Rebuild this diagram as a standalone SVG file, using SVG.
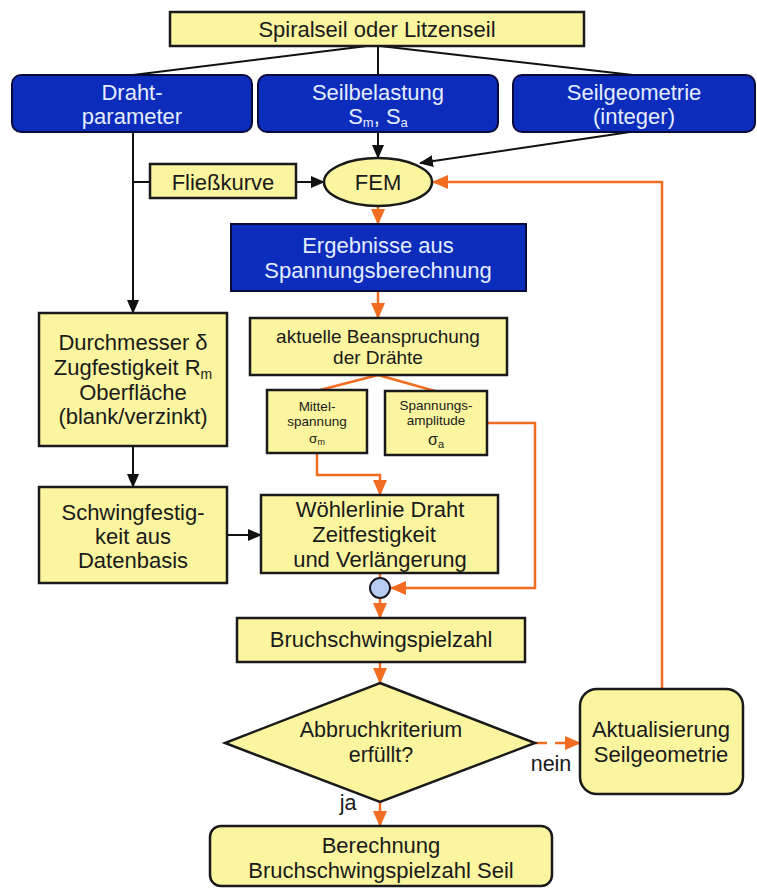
<svg xmlns="http://www.w3.org/2000/svg" width="757" height="890" viewBox="0 0 757 890">
<defs>
<style>
.y{fill:#fbf5a0;stroke:#1a1a1a;stroke-width:2.5}
.b{fill:#0c2dbb;stroke:#0a0a3a;stroke-width:2}
text{font-family:"Liberation Sans",Arial,sans-serif;text-anchor:middle;fill:#1a1a1a}
.t{font-size:22px}
.m{font-size:19px}
.d{font-size:21.5px}
.s{font-size:13.5px}
.w{fill:#e4ecff;font-size:22px}
.k{stroke:#111;stroke-width:2;fill:none}
.o{stroke:#f26d21;stroke-width:2.5;fill:none}
</style>
<marker id="ak" markerUnits="userSpaceOnUse" markerWidth="14" markerHeight="14" viewBox="0 0 14 14" refX="13" refY="7" orient="auto"><path d="M0,1 L14,7 L0,13 Z" fill="#111"/></marker>
<marker id="ao" markerUnits="userSpaceOnUse" markerWidth="16" markerHeight="16" viewBox="0 0 16 16" refX="15" refY="8" orient="auto"><path d="M0,1 L16,8 L0,15 Z" fill="#f26d21"/></marker>
</defs>

<g id="connectors">
<path class="k" d="M367,46 L133,75"/>
<path class="k" d="M378,46 L378,75"/>
<path class="k" d="M380,46 L633,75"/>
<path class="k" d="M378,132 L378,158" marker-end="url(#ak)"/>
<path class="k" d="M630,132 L420,163" marker-end="url(#ak)"/>
<path class="k" d="M133,132 L133,313" marker-end="url(#ak)"/>
<path class="k" d="M133,182 L150,182"/>
<path class="k" d="M296,182 L324,182" marker-end="url(#ak)"/>
<path class="k" d="M133,446 L133,487" marker-end="url(#ak)"/>
<path class="k" d="M227,535 L261,535" marker-end="url(#ak)"/>
<path class="o" d="M378,206 L378,224" marker-end="url(#ao)"/>
<path class="o" d="M378,291 L378,318" marker-end="url(#ao)"/>
<path class="o" d="M378,375 L320,390"/>
<path class="o" d="M378,375 L435,391"/>
<path class="o" d="M317,453 L317,475 L380,475 L380,495" marker-end="url(#ao)"/>
<path class="o" d="M487,423 L535,423 L535,588 L391,588" marker-end="url(#ao)"/>
<path class="o" d="M380,573 L380,578"/>
<path class="o" d="M380,598 L380,618" marker-end="url(#ao)"/>
<path class="o" d="M380,662 L380,683" marker-end="url(#ao)"/>
<path class="o" d="M380,802 L380,826" marker-end="url(#ao)"/>
<path class="o" d="M535,743 L580,743" stroke-dasharray="12,8" marker-end="url(#ao)"/>
<path class="o" d="M662,689 L662,182 L433,182" marker-end="url(#ao)"/>
</g>

<g id="spiralseil">
<rect class="y" x="170" y="12" width="414" height="34"/>
<text class="t" x="377" y="37">Spiralseil oder Litzenseil</text>
</g>

<g id="drahtparameter">
<rect class="b" x="12" y="75" width="240" height="57" rx="9"/>
<text class="w" x="132" y="100">Draht-</text>
<text class="w" x="132" y="124">parameter</text>
</g>

<g id="seilbelastung">
<rect class="b" x="258" y="75" width="240" height="57" rx="9"/>
<text class="w" x="378" y="100">Seilbelastung</text>
<text class="w" x="378" y="124">S<tspan font-size="13" dy="3">m</tspan><tspan dy="-3">, S</tspan><tspan font-size="13" dy="3">a</tspan></text>
</g>

<g id="seilgeometrie">
<rect class="b" x="513" y="75" width="242" height="57" rx="9"/>
<text class="w" x="634" y="100">Seilgeometrie</text>
<text class="w" x="634" y="124">(integer)</text>
</g>

<g id="fliesskurve">
<rect class="y" x="150" y="164" width="146" height="34"/>
<text class="t" x="223" y="190">Fließkurve</text>
</g>

<g id="fem">
<ellipse class="y" cx="378" cy="182" rx="54" ry="24"/>
<text class="t" x="378" y="190">FEM</text>
</g>

<g id="ergebnisse">
<rect class="b" x="231" y="224" width="295" height="67"/>
<text class="w" x="378" y="253">Ergebnisse aus</text>
<text class="w" x="378" y="278">Spannungsberechnung</text>
</g>

<g id="beanspruchung">
<rect class="y" x="250" y="318" width="257" height="57"/>
<text class="m" x="378" y="343">aktuelle Beanspruchung</text>
<text class="m" x="378" y="364">der Drähte</text>
</g>

<g id="mittelspannung">
<rect class="y" x="267" y="390" width="100" height="63"/>
<text class="s" x="317" y="411">Mittel-</text>
<text class="s" x="317" y="426">spannung</text>
<text class="s" x="317" y="443">σ<tspan font-size="9" dy="2">m</tspan></text>
</g>

<g id="spannungsamplitude">
<rect class="y" x="385" y="391" width="102" height="64"/>
<text class="s" x="436" y="410">Spannungs-</text>
<text class="s" x="436" y="425">amplitude</text>
<text x="436" y="445" style="font-size:16px">σ<tspan font-size="11" dy="3">a</tspan></text>
</g>

<g id="durchmesser">
<rect class="y" x="39" y="313" width="188" height="133"/>
<text class="t" x="133" y="350">Durchmesser δ</text>
<text class="t" x="133" y="375">Zugfestigkeit R<tspan font-size="14" dy="4">m</tspan></text>
<text class="t" x="133" y="400">Oberfläche</text>
<text class="t" x="133" y="424">(blank/verzinkt)</text>
</g>

<g id="schwingfestigkeit">
<rect class="y" x="39" y="487" width="188" height="96"/>
<text class="t" x="133" y="520">Schwingfestig-</text>
<text class="t" x="133" y="544">keit aus</text>
<text class="t" x="133" y="568">Datenbasis</text>
</g>

<g id="woehlerlinie">
<rect class="y" x="261" y="495" width="237" height="78"/>
<text class="t" x="380" y="517">Wöhlerlinie Draht</text>
<text class="t" x="374" y="542">Zeitfestigkeit</text>
<text class="t" x="380" y="567">und Verlängerung</text>
</g>

<g id="knoten">
<circle cx="380" cy="588" r="10" fill="#b8cbf2" stroke="#1a1a2a" stroke-width="2"/>
</g>

<g id="bruchschwingspielzahl">
<rect class="y" x="237" y="618" width="288" height="44"/>
<text class="t" x="381" y="647">Bruchschwingspielzahl</text>
</g>

<g id="abbruchkriterium">
<polygon class="y" points="380,683 535,743 380,802 225,743"/>
<text class="d" x="381" y="737">Abbruchkriterium</text>
<text class="d" x="381" y="762">erfüllt?</text>
<text class="d" x="348" y="810">ja</text>
<text class="d" x="551" y="771">nein</text>
</g>

<g id="aktualisierung">
<rect class="y" x="580" y="689" width="163" height="105" rx="17"/>
<text class="t" x="661" y="737">Aktualisierung</text>
<text class="t" x="661" y="762">Seilgeometrie</text>
</g>

<g id="berechnung">
<rect class="y" x="210" y="826" width="342" height="60" rx="11"/>
<text class="t" x="381" y="853">Berechnung</text>
<text class="t" x="381" y="878">Bruchschwingspielzahl Seil</text>
</g>
</svg>
